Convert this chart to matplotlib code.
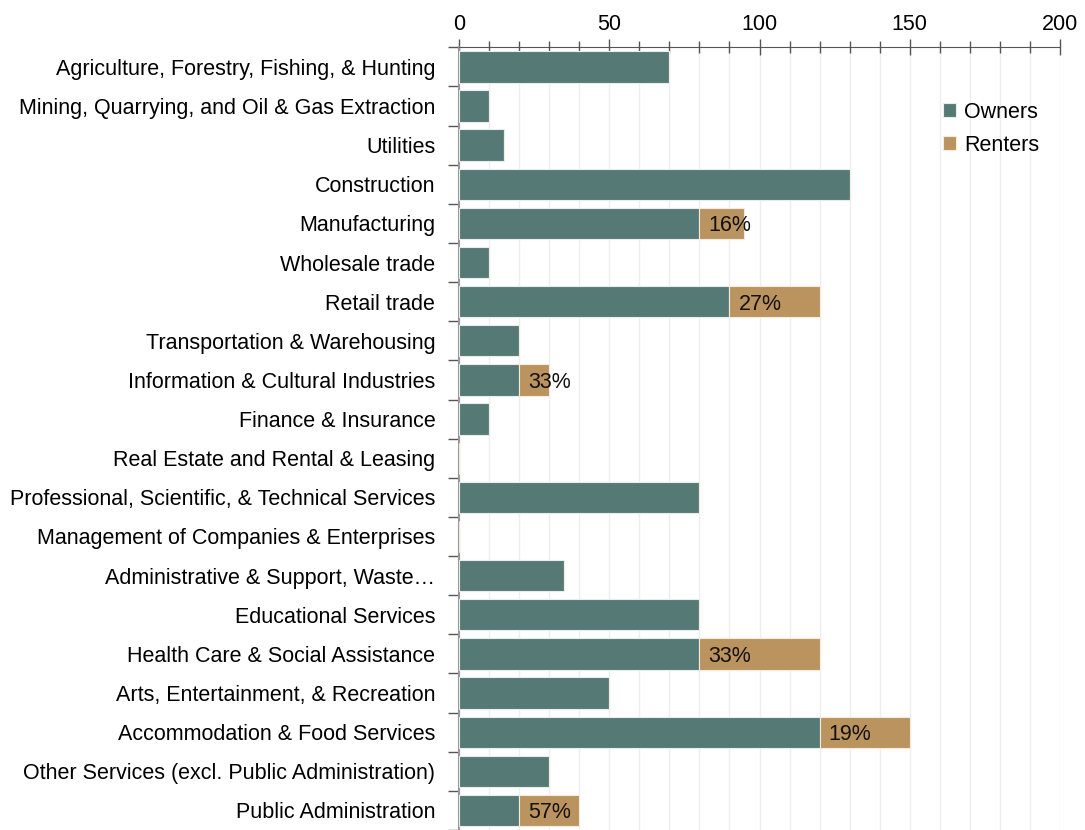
import matplotlib.pyplot as plt
from matplotlib.ticker import MultipleLocator, FixedLocator
import numpy as np

plt.rcParams['font.family'] = ['Liberation Sans', 'DejaVu Sans']

industries = [
    "Agriculture, Forestry, Fishing, & Hunting",
    "Mining, Quarrying, and Oil & Gas Extraction",
    "Utilities",
    "Construction",
    "Manufacturing",
    "Wholesale trade",
    "Retail trade",
    "Transportation & Warehousing",
    "Information & Cultural Industries",
    "Finance & Insurance",
    "Real Estate and Rental & Leasing",
    "Professional, Scientific, & Technical Services",
    "Management of Companies & Enterprises",
    "Administrative & Support, Waste\u2026",
    "Educational Services",
    "Health Care & Social Assistance",
    "Arts, Entertainment, & Recreation",
    "Accommodation & Food Services",
    "Other Services (excl. Public Administration)",
    "Public Administration",
]
owners = [70, 10, 15, 130, 80, 10, 90, 20, 20, 10, 0, 80, 0, 35, 80, 80, 50, 120, 30, 20]
renters = [0, 0, 0, 0, 15, 0, 30, 0, 10, 0, 0, 0, 0, 0, 0, 40, 0, 30, 0, 20]
renter_pct = ["", "", "", "", "16%", "", "27%", "", "33%", "", "", "", "", "", "", "33%", "", "19%", "", "57%"]

c_own = "#557a76"
c_rent = "#bb935e"

fig = plt.figure(figsize=(10.85, 8.3), dpi=100)
ax = fig.add_axes([0.423, 0.0, 0.554, 0.943])

y = np.arange(len(industries))
ax.barh(y, owners, height=0.8, color=c_own, edgecolor="#e8ecea", linewidth=0.8, label="Owners", zorder=3)
ax.barh(y, renters, left=owners, height=0.8, color=c_rent, edgecolor="#f2ebe0", linewidth=0.8, label="Renters", zorder=3)

for i in range(len(industries)):
    if renter_pct[i]:
        ax.text(owners[i] + 3, y[i], renter_pct[i], va="center_baseline", ha="left", fontsize=15.5, color="#111111", zorder=4)

ax.set_xlim(0, 200)
ax.set_ylim(len(industries) - 0.5, -0.5)
ax.xaxis.tick_top()
ax.xaxis.set_major_locator(MultipleLocator(50))
ax.xaxis.set_minor_locator(MultipleLocator(10))
ax.tick_params(axis="x", which="major", direction="inout", length=12, width=1, color="#555555", labelsize=15.5, pad=3)
ax.tick_params(axis="x", which="minor", direction="inout", length=8, width=1, color="#555555")
ax.grid(axis="x", which="both", color="#eeeeee", linewidth=1, zorder=0)

ax.set_yticks(y)
ax.set_yticklabels(industries, fontsize=15.5)
ax.yaxis.set_minor_locator(FixedLocator(np.arange(-0.5, len(industries), 1)))
ax.tick_params(axis="y", which="major", length=0, pad=17)
ax.tick_params(axis="y", which="minor", direction="out", length=8, width=1, color="#555555")

for s in ["right", "bottom"]:
    ax.spines[s].set_visible(False)
ax.spines["top"].set_color("#555555")
ax.spines["left"].set_color("#999999")
ax.spines["left"].set_linewidth(1.5)

ax.legend(loc="upper right", bbox_to_anchor=(0.998, 0.955), frameon=False, fontsize=15.5,
          handlelength=0.6, handleheight=0.6, handletextpad=0.4, labelspacing=0.55)

fig.savefig("out.png", dpi=100)
